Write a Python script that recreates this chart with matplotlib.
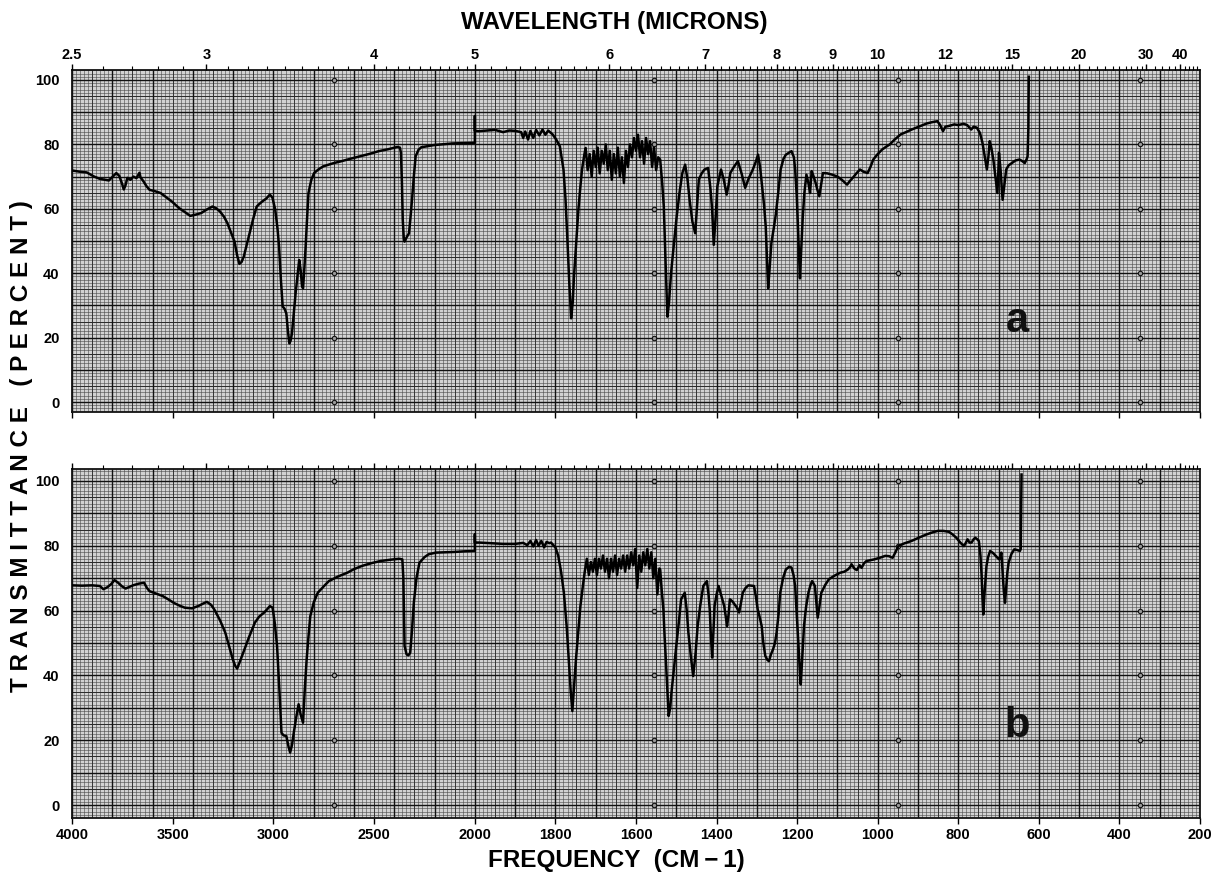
import numpy as np
import matplotlib
matplotlib.use("Agg")
import matplotlib.pyplot as plt

plt.rcParams['font.family'] = ['Liberation Sans', 'DejaVu Sans']
plt.rcParams['font.weight'] = 'bold'

# ---------------- data ----------------
freq_a = [4000, 3960, 3927, 3890, 3862, 3817, 3790, 3780, 3765, 3750, 3743, 3735, 3725, 3710, 3695, 3680,
          3665, 3660, 3645, 3630, 3615, 3590, 3560, 3530, 3505, 3468, 3440, 3413, 3385, 3358, 3330, 3303,
          3285, 3266, 3245, 3229, 3210, 3193, 3180, 3169, 3158, 3147, 3130, 3119, 3100, 3083, 3070, 3055,
          3035, 3018, 3005, 2991, 2980, 2972, 2963, 2954, 2945, 2936, 2928, 2921, 2915, 2908, 2899, 2890,
          2880, 2872, 2865, 2858, 2853, 2846, 2840, 2833, 2826, 2812, 2798, 2775, 2752, 2700, 2661, 2620,
          2569, 2520, 2477, 2430, 2385, 2372, 2367, 2362, 2358, 2353, 2349, 2340, 2327, 2320, 2312, 2303,
          2294, 2280, 2266, 2230, 2202, 2150, 2110, 2050, 2004, 2000, 2000, 2000,
          1990, 1970, 1950, 1930, 1915, 1900, 1885, 1880, 1875, 1868, 1862, 1855, 1848, 1840, 1832, 1825,
          1818, 1807, 1798, 1789, 1780, 1775, 1771, 1766, 1761, 1757, 1754, 1748, 1743, 1738, 1734, 1728,
          1725, 1720, 1715, 1710, 1705, 1700, 1695, 1690, 1685, 1680, 1675, 1670, 1665, 1660, 1655, 1650,
          1645, 1640, 1635, 1630, 1625, 1620, 1615, 1610, 1605, 1600, 1595, 1590, 1585, 1580, 1575, 1570,
          1565, 1560, 1555, 1550, 1545,
          1540, 1535, 1531, 1527, 1522, 1518, 1513, 1506, 1499, 1492, 1485, 1478, 1472, 1467, 1460, 1453,
          1449, 1444, 1437, 1430, 1421, 1415, 1411, 1407, 1402, 1398, 1389, 1382, 1375, 1370, 1366, 1357,
          1347, 1338, 1329, 1320, 1310, 1303, 1297, 1292, 1287, 1282, 1278, 1275, 1272, 1268, 1264, 1258,
          1253, 1247, 1241, 1234, 1228, 1214, 1208, 1205, 1201, 1198, 1195, 1193, 1190, 1186, 1182, 1177,
          1172, 1168, 1164, 1159, 1154, 1150, 1145, 1140, 1136, 1125, 1113, 1100, 1090, 1083, 1076, 1070,
          1062, 1053, 1044, 1035, 1025, 1018, 1011, 1000, 989, 980, 970, 958, 943, 930, 916, 898,
          878, 865, 852, 845, 838, 832, 824, 810, 800, 787, 778, 768, 762, 754, 746, 740,
          734, 729, 725, 722, 718, 713, 708, 703, 701, 699, 695, 690, 686, 681, 675, 667,
          658, 648, 641, 635, 630, 628, 626, 625]
trans_a = [71.9, 71.5, 71.3, 70.0, 69.3, 68.8, 70.5, 71.1, 70.2, 67.5, 66.0, 67.2, 69.6, 69.0, 70.0, 69.5,
           71.2, 69.8, 68.5, 67.0, 65.9, 65.5, 64.9, 63.5, 62.3, 60.2, 59.0, 57.8, 58.2, 58.7, 59.8, 60.7,
           60.2, 59.2, 57.5, 55.6, 52.5, 49.8, 45.5, 42.9, 43.5, 45.2, 49.5, 52.4, 57.0, 60.7, 61.5, 62.3,
           63.2, 64.4, 63.5, 59.7, 54.0, 48.3, 38.0, 29.6, 29.0, 27.5, 22.0, 18.2, 19.0, 21.3, 27.5, 33.7,
           39.5, 44.1, 41.0, 36.0, 35.3, 42.0, 48.3, 57.0, 64.9, 69.0, 71.1, 72.3, 73.2, 74.2, 74.8, 75.5,
           76.3, 77.1, 77.9, 78.5, 79.2, 79.0, 77.4, 68.0, 56.6, 51.0, 49.8, 51.0, 52.4, 57.0, 62.8, 70.0,
           76.3, 78.3, 79.1, 79.5, 79.8, 80.1, 80.3, 80.4, 80.5, 80.5, 88.8, 84.2,
           84.1, 84.3, 84.5, 83.8, 84.3, 84.2, 83.8, 82.0, 84.0, 81.5, 84.2, 82.0, 84.5, 82.8, 84.6, 83.0,
           84.3, 83.1, 81.5, 79.4, 72.2, 63.0, 52.4, 38.0, 26.0, 31.0, 38.9, 50.0, 59.7, 67.0, 72.2, 77.0,
           78.9, 72.0, 77.0, 70.0, 78.0, 73.0, 79.0, 71.0, 78.0, 74.0, 80.0, 72.0, 78.0, 69.0, 77.0, 71.0,
           79.0, 70.0, 76.0, 68.0, 78.0, 73.0, 80.0, 76.0, 82.0, 78.0, 83.0, 76.0, 81.0, 74.0, 82.0, 77.0,
           81.0, 73.0, 79.0, 72.0, 76.0,
           75.3, 68.0, 60.7, 45.0, 26.5, 31.0, 40.0, 49.0, 57.6, 65.0, 71.1, 73.7, 69.0, 62.8, 56.0, 52.4,
           60.0, 69.1, 71.0, 72.2, 72.7, 66.0, 59.7, 48.8, 58.0, 67.0, 72.2, 69.0, 64.4, 67.5, 71.1, 73.0,
           74.8, 71.0, 66.5, 69.5, 72.2, 74.5, 76.8, 73.0, 67.0, 61.0, 54.5, 45.0, 35.3, 42.0, 49.3, 54.0,
           58.2, 65.0, 72.2, 75.5, 76.8, 77.9, 76.0, 72.2, 64.0, 54.5, 45.0, 38.4, 47.0, 57.6, 65.0, 70.6,
           68.0, 64.9, 71.7, 70.0, 68.0, 66.0, 63.9, 68.0, 71.1, 71.0, 70.6, 70.0, 69.1, 68.3, 67.5, 68.5,
           69.6, 71.0, 72.2, 71.5, 71.1, 73.0, 75.3, 77.0, 78.4, 79.2, 80.0, 81.5, 83.1, 83.8, 84.6, 85.5,
           86.5, 86.9, 87.2, 86.0, 84.1, 85.5, 85.7, 86.2, 86.0, 86.4, 86.0, 84.6, 85.5, 85.2, 83.5, 80.5,
           76.0, 72.2, 76.5, 81.0, 79.0, 75.3, 70.0, 64.9, 70.0, 77.4, 72.0, 62.8, 67.0, 72.2, 73.5, 74.2,
           75.0, 75.3, 74.8, 74.2, 75.5, 76.3, 85.0, 101.0]

freq_b = [4000, 3950, 3900, 3862, 3844, 3825, 3807, 3789, 3771, 3752, 3734, 3715, 3697, 3670, 3642, 3628,
          3615, 3580, 3550, 3520, 3495, 3465, 3440, 3404, 3370, 3345, 3330, 3310, 3294, 3265, 3239, 3220,
          3202, 3190, 3180, 3165, 3147, 3120, 3092, 3070, 3046, 3030, 3018, 3004, 2993, 2982, 2970, 2960,
          2950, 2936, 2925, 2917, 2908, 2899, 2887, 2875, 2865, 2853, 2845, 2835, 2826, 2817, 2800, 2780,
          2750, 2725, 2680, 2633, 2600, 2560, 2510, 2468, 2420, 2376, 2360, 2355, 2349, 2339, 2330, 2321,
          2312, 2303, 2290, 2275, 2250, 2229, 2193, 2101, 2050, 2002, 2000, 2000, 2000,
          1990, 1960, 1930, 1900, 1880, 1870, 1862, 1855, 1848, 1842, 1835, 1828, 1822, 1815, 1811, 1800,
          1793, 1786, 1779, 1772, 1767, 1762, 1758, 1754, 1749, 1743, 1738, 1732, 1727,
          1722, 1717, 1712, 1707, 1702, 1697, 1692, 1687, 1682, 1677, 1672, 1667, 1662, 1657, 1652, 1647,
          1642, 1637, 1632, 1627, 1622, 1617, 1612, 1607, 1602, 1597, 1592, 1587, 1582, 1577, 1572, 1567,
          1562, 1557, 1552, 1547, 1542,
          1540, 1536, 1532, 1529, 1526, 1522, 1519, 1515, 1512, 1506, 1500, 1494, 1488, 1479, 1474, 1470,
          1464, 1458, 1452, 1447, 1440, 1433, 1424, 1420, 1417, 1414, 1411, 1408, 1405, 1400, 1395, 1388,
          1381, 1377, 1374, 1370, 1367, 1362, 1358, 1350, 1344, 1340, 1335, 1328, 1321, 1307, 1302, 1298,
          1293, 1288, 1284, 1279, 1274, 1270, 1265, 1260, 1255, 1251, 1246, 1242, 1235, 1228, 1220, 1214,
          1209, 1205, 1201, 1197, 1194, 1191, 1187, 1183, 1178, 1172, 1167, 1163, 1160, 1156, 1152, 1149,
          1145, 1140, 1130, 1121, 1107, 1093, 1083, 1074, 1068, 1065, 1058, 1052, 1045, 1040, 1034, 1028,
          1009, 995, 981, 972, 963, 956, 949, 935, 916, 898, 879, 865, 851, 837, 823, 814,
          805, 795, 786, 781, 777, 772, 767, 762, 758, 753, 749, 745, 742, 740, 738, 735,
          730, 726, 721, 714, 707, 702, 698, 695, 693, 690, 687, 684, 681, 678, 675, 668,
          661, 654, 647, 645, 644, 643]
trans_b = [67.8, 67.7, 67.8, 67.6, 66.6, 67.2, 68.1, 69.4, 68.6, 67.5, 66.8, 67.3, 67.8, 68.3, 68.6, 67.0,
           66.0, 65.2, 64.5, 63.4, 62.4, 61.5, 60.9, 60.7, 61.5, 62.3, 62.7, 61.8, 60.4, 57.0, 53.2, 49.0,
           45.0, 43.0, 42.1, 44.5, 47.5, 52.0, 56.3, 58.2, 59.4, 60.5, 61.4, 60.9, 56.0, 49.1, 35.0, 22.3,
           21.5, 21.3, 18.0, 16.2, 18.5, 22.3, 27.0, 31.1, 28.0, 25.4, 35.0, 45.0, 52.0, 58.3, 62.5, 65.5,
           67.5, 69.1, 70.5, 71.7, 72.8, 73.8, 74.7, 75.3, 75.7, 76.0, 75.8, 70.0, 49.1, 46.5, 46.2, 47.0,
           54.0, 62.4, 70.0, 74.8, 76.5, 77.4, 77.9, 78.1, 78.3, 78.4, 78.4, 83.5, 81.0,
           81.0, 80.8, 80.6, 80.6, 80.9, 80.2, 81.5, 79.8, 81.8, 80.0, 81.5, 79.5, 81.2, 80.8, 81.0, 79.5,
           76.9, 72.0, 65.5, 55.0, 45.0, 35.0, 29.0, 36.0, 45.0, 54.0, 61.4, 67.5, 72.2,
           76.0, 71.0, 75.0, 72.0, 76.0, 71.0, 76.0, 73.0, 77.0, 72.0, 76.0, 70.0, 76.0, 72.0, 77.0, 71.0,
           76.0, 73.0, 77.0, 72.0, 77.0, 73.0, 78.0, 74.0, 79.0, 67.0, 77.0, 72.0, 78.0, 74.0, 79.0, 73.0,
           78.0, 70.0, 76.0, 65.0, 73.0,
           72.7, 66.0, 60.4, 52.0, 45.0, 35.0, 27.5, 30.0, 34.7, 42.0, 49.1, 56.0, 63.5, 65.5, 60.0, 53.2,
           46.0, 39.8, 47.0, 55.2, 62.0, 67.6, 69.1, 65.0, 60.4, 52.0, 45.5, 53.0, 61.4, 65.0, 67.6, 64.5,
           61.4, 58.0, 55.2, 59.0, 63.5, 63.0, 62.4, 61.0, 59.4, 62.0, 65.5, 67.0, 67.8, 67.6, 64.0, 60.4,
           58.0, 55.2, 50.0, 46.0, 44.8, 44.4, 46.5, 48.0, 50.0, 53.2, 59.0, 65.5, 70.0, 72.7, 73.5, 73.3,
           71.0, 67.6, 59.0, 50.1, 43.0, 37.2, 46.0, 55.2, 61.0, 65.5, 67.8, 69.1, 68.5, 67.6, 62.0, 57.8,
           61.0, 65.5, 68.0, 69.7, 70.8, 71.7, 72.0, 72.7, 73.5, 74.3, 73.0, 72.5, 74.0, 73.2, 74.6, 75.3,
           75.8, 76.3, 76.9, 76.8, 76.3, 78.0, 79.9, 80.7, 81.5, 82.5, 83.5, 84.1, 84.6, 84.6, 84.3, 83.5,
           82.5, 81.0, 79.9, 81.0, 82.0, 81.0, 81.0, 82.0, 82.5, 82.0, 81.5, 77.0, 70.7, 64.0, 58.8, 65.0,
           73.8, 76.5, 78.4, 77.8, 76.9, 76.2, 75.8, 77.0, 77.9, 72.0, 66.0, 62.4, 67.0, 72.0, 74.8, 77.5,
           78.9, 78.7, 78.4, 79.0, 90.0, 102.0]

freq_ticks = [4000, 3500, 3000, 2500, 2000, 1800, 1600, 1400, 1200, 1000, 800, 600, 400, 200]
freq_labels = ['4000', '3500', '3000', '2500', '2000', '1800', '1600', '1400', '1200', '1000',
               '800', '600', '400', '200']
wl_major = [2.5, 3, 4, 5, 6, 7, 8, 9, 10, 12, 15, 20, 30, 40]
wl_labels = ['2.5', '3', '4', '5', '6', '7', '8', '9', '10', '12', '15', '20', '30', '40']
pct_ticks = [0, 20, 40, 60, 80, 100]
cal_freqs = [2700, 1555, 950, 350]
panel_letters = ['a', 'b']


# ------------- split frequency scale (x2 expansion below 2000 cm-1) -------------
def fwd(f):
    f = np.asarray(f, dtype=float)
    return np.where(f <= 2000, f, 2000 + (f - 2000) / 2.0)


def inv(g):
    g = np.asarray(g, dtype=float)
    return np.where(g <= 2000, g, 2000 + 2.0 * (g - 2000))


W, H = 1213, 883
fig = plt.figure(figsize=(W / 100, H / 100), dpi=100)
fig.patch.set_facecolor('white')

axA = fig.add_axes([72 / W, 1 - 412 / H, 1128 / W, 342 / H])
axB = fig.add_axes([72 / W, 1 - 818 / H, 1128 / W, 349 / H])
ylims = [(-3.1, 103.1), (-4.0, 103.7)]

# grid positions (chart paper)
major_v = list(range(4000, 2000, -200)) + list(range(2000, 199, -100))
medium_v = list(range(3900, 2000, -200)) + list(range(1950, 200, -100))
fine_v = list(range(4000, 2000, -20)) + list(range(2000, 199, -10))
major_h = list(range(0, 101, 10))
medium_h = list(range(5, 101, 10))
fine_h = list(range(-4, 104, 1))

wl_minor = []
for w in np.round(np.arange(2.6, 10.0, 0.1), 2):
    wl_minor.append(w)
for w in np.round(np.arange(10.2, 15.0, 0.2), 2):
    wl_minor.append(w)
for w in np.round(np.arange(15.5, 20.0, 0.5), 2):
    wl_minor.append(w)
for w in range(21, 30):
    wl_minor.append(w)
for w in [32, 34, 36, 38, 42, 44, 46, 48]:
    wl_minor.append(w)
wl_minor = [w for w in wl_minor if not any(abs(w - m) < 1e-6 for m in wl_major)]

series = [(freq_a, trans_a), (freq_b, trans_b)]

for i, ax in enumerate([axA, axB]):
    ax.set_xscale('function', functions=(fwd, inv))
    ax.set_xlim(4000, 200)
    ax.set_ylim(*ylims[i])
    ax.set_facecolor('#d2d2d2')

    xt = ax.get_xaxis_transform()
    yt = ax.get_yaxis_transform()
    ax.vlines(fine_v, 0, 1, transform=xt, colors='#474747', linewidth=0.4, zorder=1)
    ax.hlines(fine_h, 0, 1, transform=yt, colors='#474747', linewidth=0.4, zorder=1)
    ax.vlines(medium_v, 0, 1, transform=xt, colors='#2a2a2a', linewidth=0.6, zorder=1.2)
    ax.hlines(medium_h, 0, 1, transform=yt, colors='#2a2a2a', linewidth=0.7, zorder=1.2)
    ax.vlines(major_v, 0, 1, transform=xt, colors='#111111', linewidth=1.0, zorder=1.4)
    ax.hlines(major_h, 0, 1, transform=yt, colors='#111111', linewidth=1.0, zorder=1.4)

    # calibration marks printed on the paper
    cx = [f for f in cal_freqs for _ in pct_ticks]
    cy = [p for _ in cal_freqs for p in pct_ticks]
    ax.plot(cx, cy, ls='none', marker='o', ms=3.2, mfc='#9a9a9a', mec='#111111', mew=0.8, zorder=2)

    f, t = series[i]
    ax.plot(f, t, color='black', linewidth=1.8, solid_joinstyle='round', zorder=3)

    for s in ax.spines.values():
        s.set_linewidth(1.3)
        s.set_color('#111111')

    ax.set_yticks(pct_ticks)
    ax.set_yticklabels([str(p) for p in pct_ticks])
    ax.tick_params(axis='y', length=0, pad=9, labelsize=10.5)

    ax.set_xticks(freq_ticks)
    ax.xaxis.set_minor_locator(matplotlib.ticker.NullLocator())
    if i == 1:
        ax.set_xticklabels(freq_labels)
    else:
        ax.set_xticklabels([''] * len(freq_ticks))
    ax.tick_params(axis='x', direction='out', length=4.5, width=1.0, pad=3, labelsize=10.5)

    top = ax.twiny()
    top.set_xscale('function', functions=(fwd, inv))
    top.set_xlim(4000, 200)
    top.set_xticks([1e4 / w for w in wl_major])
    top.set_xticks([1e4 / w for w in wl_minor], minor=True)
    if i == 0:
        top.set_xticklabels(wl_labels)
    else:
        top.set_xticklabels([''] * len(wl_major))
    top.tick_params(axis='x', which='major', direction='out', length=4.5, width=1.0, pad=1.5, labelsize=10.5)
    top.tick_params(axis='x', which='minor', direction='out', length=2.6, width=0.8)
    for s in top.spines.values():
        s.set_visible(False)

    ax.text(0.838, 0.265, panel_letters[i], transform=ax.transAxes, fontsize=30,
            fontweight='bold', ha='center', va='center', color='#111111', zorder=4)

fig.text(614 / W, 1 - 22 / H, 'WAVELENGTH (MICRONS)', ha='center', va='center', fontsize=17.5,
         fontweight='bold')
fig.text(616 / W, 1 - 861 / H, 'FREQUENCY  (CM\u2009\u2212\u20091)', ha='center', va='center', fontsize=17.5,
         fontweight='bold')
fig.text(22 / W, 1 - 446 / H, 'T R A N S M I T T A N C E   ( P E R C E N T )', rotation=90,
         ha='center', va='center', fontsize=17.5, fontweight='bold')

fig.savefig('out.png', dpi=100, facecolor='white')
